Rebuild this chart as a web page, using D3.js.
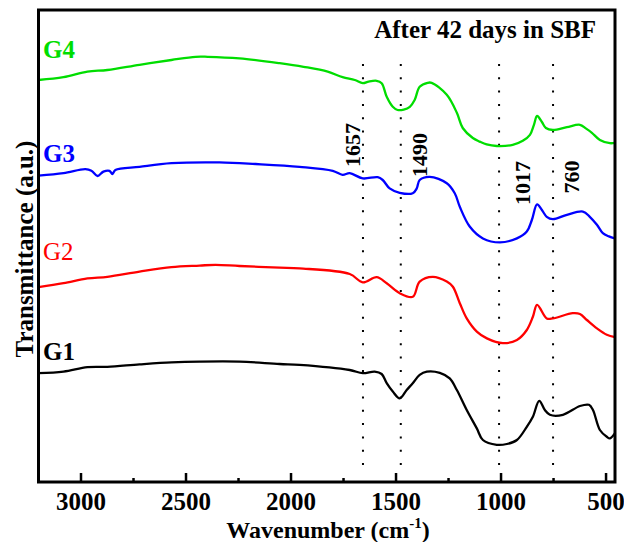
<!DOCTYPE html>
<html>
<head>
<meta charset="utf-8">
<script src="https://cdn.jsdelivr.net/npm/d3@7"></script>
<style>
  body { margin: 0; background: #fff; }
  text { font-family: "Liberation Serif", "Times New Roman", serif; }
</style>
</head>
<body>
<div id="chart"></div>
<script>
// FTIR spectra after 42 days in SBF, [wavenumber, transmittance a.u.]
const g1 = [[3200,27.2],[3081,27.6],[2967,28.7],[2872,28.8],[2719,29.4],[2567,29.9],[2433,30.1],[2243,30.1],[2052,29.5],[1957,29.3],[1718,28],[1656,27.2],[1599,27.6],[1566,27],[1542,24.7],[1513,22.6],[1480,20.9],[1447,23],[1418,24.7],[1385,26.8],[1351,27.6],[1289,27.3],[1242,25.9],[1208,23],[1161,18],[1113,13.4],[1084,10.5],[1018,9.3],[970,9.5],[922,10.5],[875,13.8],[846,16.3],[816,20.3],[789,18],[765,16.8],[703,16.8],[622,19],[579,19.3],[560,18],[527,13],[494,11.3],[479,10.9],[455,12.2]];
const g2 = [[3200,48.7],[3081,49.7],[2967,50.9],[2872,51.3],[2719,52.6],[2567,53.7],[2433,54.1],[2357,54.3],[2243,54],[2052,53.6],[1957,53.4],[1718,52],[1656,49.9],[1590,51.2],[1542,49.7],[1480,47.2],[1418,46.3],[1385,50.1],[1323,51.3],[1256,50.1],[1227,48.8],[1194,44.7],[1161,40.9],[1113,37.6],[1065,35.9],[989,34.7],[922,35.5],[875,38],[846,41.3],[826,44.3],[780,40.9],[751,40.9],[656,42.2],[622,42],[589,40.5],[541,38.4],[494,36.8],[455,36.2]];
const g3 = [[3200,76.6],[3081,77.2],[2977,78.2],[2948,77.8],[2919,76.5],[2891,77.6],[2862,77.8],[2848,77],[2834,78],[2719,78.8],[2567,79.7],[2338,79.9],[2166,79.5],[1957,78.8],[1799,77.8],[1752,76.8],[1718,77.2],[1656,75.9],[1585,76.2],[1561,75.5],[1528,73.4],[1480,72.3],[1418,72.2],[1399,73.4],[1385,75.5],[1337,76.3],[1256,74.7],[1218,72.2],[1194,68.8],[1146,63.8],[1084,60.9],[1003,59.9],[922,60.9],[875,62.6],[851,65.5],[826,69.4],[803,68],[780,66.3],[751,65.7],[684,66.8],[608,67.6],[575,66.3],[541,64.3],[513,62.2],[484,61.4],[455,60.9]];
const g4 = [[3200,100.5],[3081,101.2],[2967,102.6],[2872,103],[2719,104.3],[2567,105.5],[2452,106.3],[2395,106.3],[2243,105.9],[2052,104.7],[1938,103.8],[1823,102.6],[1752,101.2],[1694,100.5],[1656,99.7],[1628,100.1],[1590,100.3],[1566,99.7],[1542,96.3],[1513,93.8],[1490,93],[1461,93.1],[1432,93.8],[1409,95.5],[1385,98.8],[1347,99.8],[1328,99.8],[1256,96.8],[1208,92.3],[1180,88.5],[1132,86],[1099,85.1],[1066,84.4],[1018,84],[942,84.3],[894,85.3],[860,86.8],[841,89.3],[826,91.5],[803,90],[784,88.5],[751,88],[684,88.7],[622,89.3],[594,88.4],[565,87.3],[527,85.5],[479,84.7],[455,84.8]];

const seriesNames = ["G1", "G2", "G3", "G4"];
const seriesColors = ["#000000", "#ff0000", "#0000ff", "#00dd00"];
const seriesData = [g1, g2, g3, g4];

const bandLabels = ["1657", "1490", "1017", "760"];
const bandPositions = [1655, 1475, 1007, 750];

const majorTicks = [3000, 2500, 2000, 1500, 1000, 500];
const minorTicks = [2750, 2250, 1750, 1250, 750];

const width = 624;
const height = 542;
const margin = { top: 10, right: 9, bottom: 60, left: 38.5 };

let svg = d3.select("#chart")
    .append("svg")
    .attr("width", width)
    .attr("height", height);

let x = d3.scaleLinear()
    .domain([3200, 455])
    .range([margin.left, width - margin.right]);
let y = d3.scaleLinear()
    .domain([0, 118])
    .range([height - margin.bottom, margin.top]);

// dotted band markers
let bands = svg.append("g");
bandPositions.forEach((b) => {
    bands.append("line")
        .attr("x1", x(b)).attr("x2", x(b))
        .attr("y1", 64).attr("y2", 466)
        .attr("stroke", "#000")
        .attr("stroke-width", 2)
        .attr("stroke-dasharray", "2,11.3");
});

// band labels (rotated)
const bandLabelPos = [
    { dx: -3, cy: 145 },
    { dx: 26, cy: 155 },
    { dx: 31, cy: 183 },
    { dx: 26, cy: 177 },
];
bandLabels.forEach((t, i) => {
    let bx = x(bandPositions[i]) + bandLabelPos[i].dx;
    svg.append("text")
        .attr("transform", "translate(" + bx + "," + bandLabelPos[i].cy + ") rotate(-90)")
        .attr("text-anchor", "middle")
        .attr("font-size", 22)
        .attr("font-weight", "bold")
        .text(t);
});

// spectra
let line = d3.line()
    .x((d) => x(d[0]))
    .y((d) => y(d[1]))
    .curve(d3.curveCatmullRom.alpha(0.5));

seriesData.forEach((s, i) => {
    svg.append("path")
        .datum(s)
        .attr("fill", "none")
        .attr("stroke", seriesColors[i])
        .attr("stroke-width", 2.3)
        .attr("stroke-linejoin", "round")
        .attr("d", line);
});

// series labels
const labelY = [360, 260, 162, 58];
seriesNames.forEach((n, i) => {
    svg.append("text")
        .attr("x", 43)
        .attr("y", labelY[i])
        .attr("font-size", 25)
        .attr("font-weight", n === "G2" ? "normal" : "bold")
        .attr("fill", seriesColors[i])
        .text(n);
});

// axes
let xAxis = svg.append("g")
    .attr("transform", "translate(0," + (height - margin.bottom) + ")")
    .call(d3.axisBottom(x).tickValues(majorTicks).tickSizeInner(-9).tickSizeOuter(0).tickFormat(d3.format("d")));
xAxis.select(".domain").remove();
xAxis.selectAll(".tick line").attr("stroke-width", 2.5);
xAxis.selectAll(".tick text")
    .attr("y", 28)
    .attr("dy", 0)
    .attr("font-size", 25)
    .attr("font-weight", "bold")
    .attr("font-family", "Liberation Serif, Times New Roman, serif")
    .attr("fill", "#000");

let xMinor = svg.append("g")
    .attr("transform", "translate(0," + (height - margin.bottom) + ")")
    .call(d3.axisBottom(x).tickValues(minorTicks).tickSizeInner(-4).tickSizeOuter(0).tickFormat(""));
xMinor.select(".domain").remove();
xMinor.selectAll(".tick line").attr("stroke-width", 2.5);

// frame
svg.append("rect")
    .attr("x", margin.left)
    .attr("y", margin.top)
    .attr("width", width - margin.left - margin.right)
    .attr("height", height - margin.top - margin.bottom)
    .attr("fill", "none")
    .attr("stroke", "#000")
    .attr("stroke-width", 3);

// title
svg.append("text")
    .attr("x", 596)
    .attr("y", 38)
    .attr("text-anchor", "end")
    .attr("font-size", 25)
    .attr("font-weight", "bold")
    .text("After 42 days in SBF");

// axis titles
let xt = svg.append("text")
    .attr("x", 328)
    .attr("y", 538)
    .attr("text-anchor", "middle")
    .attr("font-size", 24)
    .attr("font-weight", "bold");
xt.append("tspan").text("Wavenumber (cm");
xt.append("tspan").attr("dy", -10).attr("font-size", 15).text("-1");
xt.append("tspan").attr("dy", 10).text(")");

svg.append("text")
    .attr("transform", "translate(33,249) rotate(-90)")
    .attr("text-anchor", "middle")
    .attr("font-size", 25)
    .attr("font-weight", "bold")
    .text("Transmittance (a.u.)");
</script>
</body>
</html>
